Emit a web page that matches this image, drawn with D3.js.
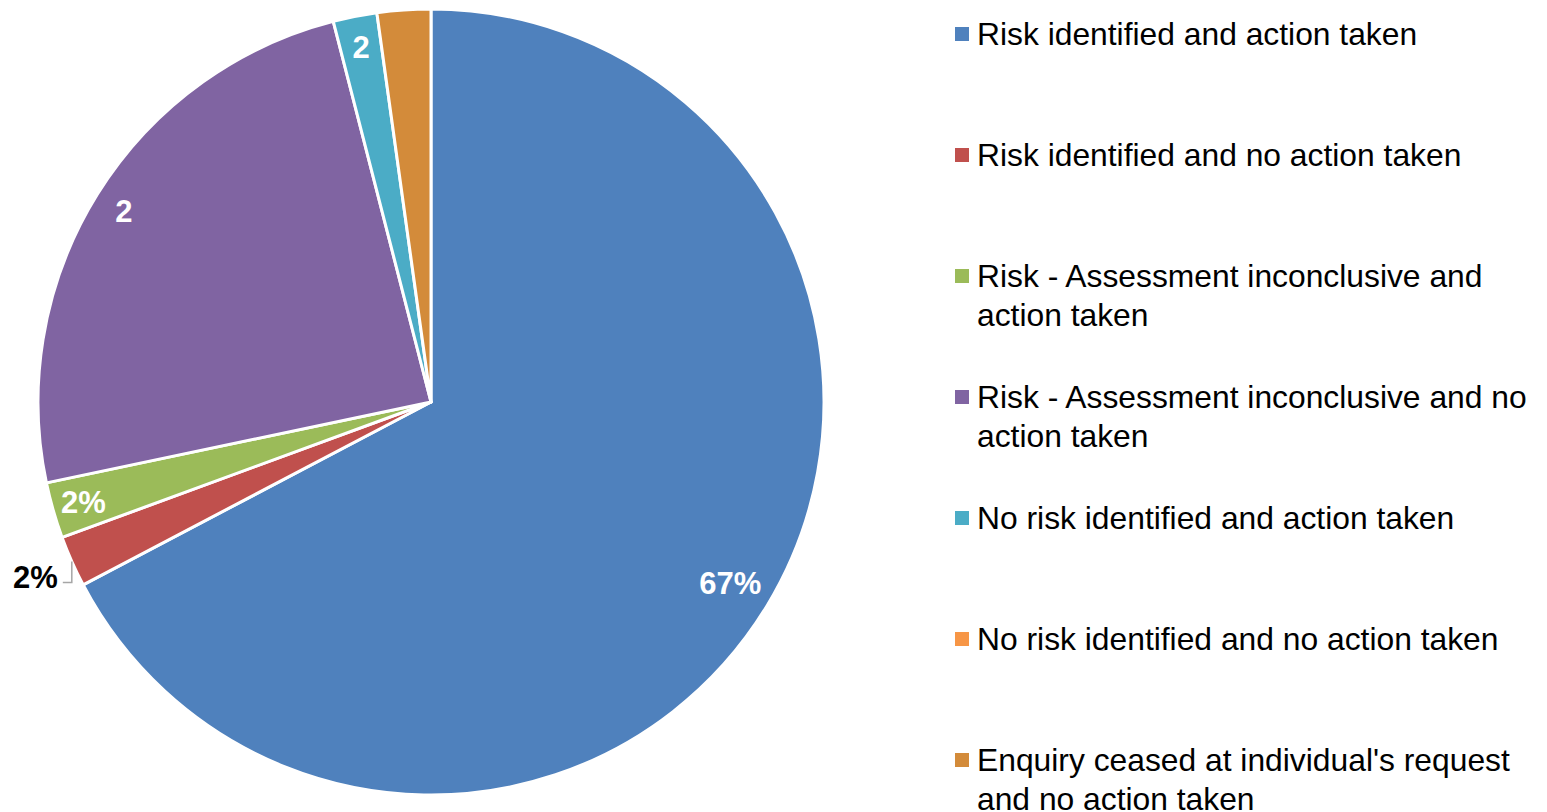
<!DOCTYPE html>
<html>
<head>
<meta charset="utf-8">
<script src="https://cdn.jsdelivr.net/npm/d3@7"></script>
<style>
  body { margin: 0; background: #fff; }
  text { font-family: "Liberation Sans", Arial, sans-serif; }
</style>
</head>
<body>
<div id="chart"></div>
<script>
// categories in legend order
var categories = [
  "Risk identified and action taken",
  "Risk identified and no action taken",
  "Risk - Assessment inconclusive and action taken",
  "Risk - Assessment inconclusive and no action taken",
  "No risk identified and action taken",
  "No risk identified and no action taken",
  "Enquiry ceased at individual's request and no action taken"
];
// share of each outcome (percent)
var values = [67.3, 2.1, 2.3, 24.3, 1.8, 0, 2.2];
// data labels as printed on the chart
var labels = ["67%", "2%", "2%", "2", "2", "", ""];
// legend text split into lines
var legendLines = [
  ["Risk identified and action taken"],
  ["Risk identified and no action taken"],
  ["Risk - Assessment inconclusive and", "action taken"],
  ["Risk - Assessment inconclusive and no", "action taken"],
  ["No risk identified and action taken"],
  ["No risk identified and no action taken"],
  ["Enquiry ceased at individual's request", "and no action taken"]
];
var colors = ["#4F81BD", "#C0504D", "#9BBB59", "#8064A2", "#4BACC6", "#F79646", "#D38B3A"];

var width = 1547, height = 812;
var cx = 431, cy = 402, radius = 393;

var svg = d3.select("#chart").append("svg")
    .attr("width", width)
    .attr("height", height);

var color = d3.scaleOrdinal().domain(categories).range(colors);

var pie = d3.pie().sort(null).value(function (d) { return d.value; });
var arcs = pie(categories.map(function (c, i) {
  return { name: c, value: values[i], label: labels[i] };
}));

var arc = d3.arc().innerRadius(0).outerRadius(radius);
var labelArc = d3.arc().innerRadius(radius * 0.92).outerRadius(radius * 0.92);
var bigLabelArc = d3.arc().innerRadius(radius * 0.89).outerRadius(radius * 0.89);
var edgeArc = d3.arc().innerRadius(radius).outerRadius(radius);

var g = svg.append("g").attr("transform", "translate(" + cx + "," + cy + ")");

g.selectAll("path.slice")
    .data(arcs.filter(function (d) { return d.value > 0; }))
    .enter().append("path")
    .attr("class", "slice")
    .attr("d", arc)
    .attr("fill", function (d) { return color(d.data.name); })
    .attr("stroke", "#fff")
    .attr("stroke-width", 3)
    .attr("stroke-linejoin", "round");

// labels inside the slices (white), the small red one sits outside with a leader
arcs.forEach(function (d, i) {
  if (!d.data.label) return;
  if (i === 1) {
    var p = edgeArc.centroid(d);
    var elbow = [p[0], p[1] + 21];
    var end = [p[0] - 9, p[1] + 21];
    g.append("polyline")
        .attr("points", [p, elbow, end].join(" "))
        .attr("fill", "none")
        .attr("stroke", "#a6a6a6")
        .attr("stroke-width", 1.5);
    g.append("text")
        .attr("x", end[0] - 5)
        .attr("y", end[1] - 5)
        .attr("dy", "0.35em")
        .attr("text-anchor", "end")
        .attr("font-size", 31)
        .attr("font-weight", "bold")
        .attr("fill", "#000")
        .text(d.data.label);
    return;
  }
  var pos = (i === 0 ? bigLabelArc : labelArc).centroid(d);
  g.append("text")
      .attr("x", pos[0])
      .attr("y", pos[1])
      .attr("dy", "0.35em")
      .attr("text-anchor", "middle")
      .attr("font-size", 31)
      .attr("font-weight", "bold")
      .attr("fill", "#fff")
      .text(d.data.label);
});

// legend
var legend = svg.append("g").attr("transform", "translate(955,0)");
var rowY = d3.scaleLinear().domain([0, 6]).range([45, 771]);

var item = legend.selectAll("g.item")
    .data(categories)
    .enter().append("g")
    .attr("class", "item")
    .attr("transform", function (d, i) { return "translate(0," + rowY(i) + ")"; });

item.append("rect")
    .attr("x", 0)
    .attr("y", -18)
    .attr("width", 14)
    .attr("height", 14)
    .attr("fill", function (d) { return color(d); });

item.append("text")
    .attr("x", 22)
    .attr("font-size", 31.8)
    .attr("fill", "#000")
    .selectAll("tspan")
    .data(function (d, i) { return legendLines[i]; })
    .enter().append("tspan")
    .attr("x", 22)
    .attr("y", function (d, j) { return j * 39; })
    .text(function (d) { return d; });
</script>
</body>
</html>
